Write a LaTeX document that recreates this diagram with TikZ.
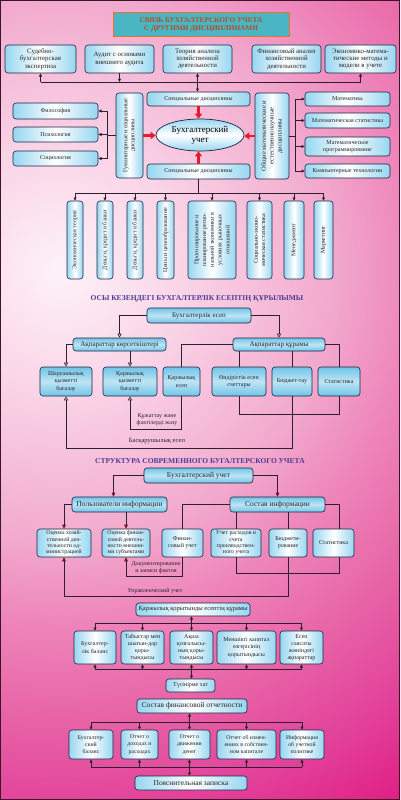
\documentclass[tikz,border=0pt]{standalone}
\usepackage{fontspec}
\setmainfont{Liberation Serif}
\usetikzlibrary{arrows.meta,shapes.geometric}

\definecolor{boxblue}{RGB}{150,214,240}
\definecolor{kazblue}{RGB}{112,196,232}
\definecolor{boxline}{RGB}{28,36,64}
\definecolor{wire}{RGB}{45,30,50}
\definecolor{rusred}{RGB}{110,20,34}
\definecolor{titleteal}{RGB}{74,182,196}
\definecolor{titleorange}{RGB}{236,112,44}
\definecolor{titletext}{RGB}{178,78,40}
\definecolor{headpurple}{RGB}{78,58,148}
\definecolor{arrowred}{RGB}{226,28,42}
\definecolor{framecol}{RGB}{60,20,40}
\definecolor{glowa}{RGB}{253,242,248}
\definecolor{glowb}{RGB}{250,214,232}
\definecolor{glowc}{RGB}{242,169,205}
\definecolor{glowd}{RGB}{238,134,187}
\definecolor{glowe}{RGB}{232,102,167}
\definecolor{glowf}{RGB}{226,64,154}
\definecolor{glowg}{RGB}{224,21,127}
\pgfdeclareradialshading{pinkglow}{\pgfpoint{0bp}{0bp}}{color(0bp)=(glowa); color(4.5bp)=(glowb); color(10.5bp)=(glowc); color(13.5bp)=(glowd); color(17bp)=(glowe); color(21bp)=(glowf); color(25bp)=(glowg); color(50bp)=(glowg)}

\begin{document}
\begin{tikzpicture}[x=1pt,y=-1pt,
   box/.style={draw=boxline,line width=0.6pt,rounded corners=3pt,left color=boxblue,right color=boxblue,middle color=white,text=black!85,align=center,inner sep=1pt,font=\fontsize{6}{7.2}\selectfont},
   topbox/.style={box,minimum height=28,font=\fontsize{6.8}{7.4}\selectfont},
   vbox/.style={box,rotate=90},
   kbox/.style={box,top color=kazblue,bottom color=kazblue,middle color=white!55!kazblue},
   head/.style={kbox,font=\fontsize{7}{8}\selectfont},
   rhead/.style={kbox,font=\fontsize{7.5}{8.5}\selectfont},
   titlebox/.style={draw=titleorange,line width=1pt,fill=titleteal,text=titletext,align=center,font=\bfseries\fontsize{7.3}{8.3}\selectfont},
   section/.style={text=headpurple,font=\bfseries\fontsize{7.5}{8.5}\selectfont},
   lbl/.style={text=black!85,align=center,font=\fontsize{6}{6.8}\selectfont},
   wireline/.style={draw=wire,line width=0.6pt},
   link/.style={wireline,-{Triangle[length=3.2pt,width=3pt]}},
   both/.style={wireline,{Triangle[length=3.2pt,width=3pt]}-{Triangle[length=3.2pt,width=3pt]}},
   klink/.style={wireline,-{Triangle[length=4pt,width=4pt,fill=white]}},
   rlink/.style={wireline,-{Triangle[length=4pt,width=3.6pt,color=rusred]}},
   redlink/.style={draw=arrowred,line width=2.4pt,-{Triangle[length=5pt,width=7pt]}}]
\useasboundingbox (0,0) rectangle (400,800);
\begin{scope}
\clip (0,0) rectangle (400,800);
\shade[shading=pinkglow] (60,270) circle (650pt);
\end{scope}

% links with other disciplines
\node[titlebox,minimum width=176,minimum height=24] (title) at (201,25) {СВЯЗЬ БУХГАЛТЕРСКОГО УЧЕТА\\С ДРУГИМИ ДИСЦИПЛИНАМИ};
\node[topbox,minimum width=71] (sud) at (40.5,59) {Судебно-\\бухгалтерская\\экспертиза};
\node[topbox,minimum width=69] (aud) at (119.5,59) {Аудит с основами\\внешнего аудита};
\node[topbox,minimum width=69] (tea) at (197.5,59) {Теория анализа\\хозяйственной\\деятельности};
\node[topbox,minimum width=69] (fan) at (286.5,59) {Финансовый анализ\\хозяйственной\\деятельности};
\node[topbox,minimum width=71] (emm) at (360.5,59) {Экономико-матема-\\тические методы и\\модели в учете};

\node[box,minimum width=103,minimum height=14] (spec1) at (198.5,99) {Специальные дисциплины};
\node[ellipse,draw=boxline,line width=0.7pt,top color=boxblue,bottom color=boxblue,middle color=white,minimum width=88,minimum height=32,inner sep=0pt,align=center,font=\fontsize{9}{10}\selectfont] (acc) at (200,135) {Бухгалтерский\\учет};
\node[box,minimum width=103,minimum height=15] (spec2) at (198.5,171.5) {Специальные дисциплины};
\node[vbox,minimum width=85,minimum height=27] (gum) at (129.5,135.5) {Гуманитарные и социальные\\дисциплины};
\node[vbox,minimum width=86,minimum height=34,font=\fontsize{6.5}{7.8}\selectfont] (nat) at (272,136) {Общие математические и\\естественнонаучные\\дисциплины};

\node[box,minimum width=85,minimum height=16] (phil) at (55.5,111) {Философия};
\node[box,minimum width=85,minimum height=15] (psy) at (55.5,134.5) {Психология};
\node[box,minimum width=85,minimum height=15] (soc) at (55.5,158.5) {Социология};
\node[box,minimum width=85,minimum height=14] (mat) at (347.5,99) {Математика};
\node[box,minimum width=85,minimum height=15] (mst) at (347.5,120.5) {Математическая статистика};
\node[box,minimum width=85,minimum height=19] (mpr) at (347.5,146.5) {Математическое\\программирование};
\node[box,minimum width=85,minimum height=14] (cmp) at (347.5,171) {Компьютерные технологии};

\node[vbox,minimum width=78,minimum height=16] (v1) at (75,240) {Экономическая теория};
\node[vbox,minimum width=78,minimum height=16] (v2) at (105,240) {Деньги, кредит и банки};
\node[vbox,minimum width=78,minimum height=16] (v3) at (135,240) {Деньги, кредит и банки};
\node[vbox,minimum width=78,minimum height=17] (v4) at (165.5,240) {Цены и ценообразование};
\node[vbox,minimum width=78,minimum height=48,font=\fontsize{6}{7.8}\selectfont] (v5) at (212,240) {Прогнозирование и\\планирование регио-\\нальной экономики в\\условиях рыночных\\отношений};
\node[vbox,minimum width=78,minimum height=25] (v6) at (259.5,240) {Социально-эконо-\\мическая статистика};
\node[vbox,minimum width=78,minimum height=20] (v7) at (294,240) {Менеджмент};
\node[vbox,minimum width=78,minimum height=19] (v8) at (323.5,240) {Маркетинг};

\coordinate (topbus) at (0,82);
\coordinate (lbus) at (107,0);
\coordinate (rbus) at (295,0);
\coordinate (vbus) at (0,193);
\draw[wireline] (sud.south |- topbus) -- (emm.south |- topbus);
\draw[link] (sud.south |- topbus) -- (sud.south);
\draw[link] (aud.south) -- (aud.south |- topbus);
\draw[both] (tea.south) -- (tea.south |- spec1.north);
\draw[link] (emm.south |- topbus) -- (emm.south);
\draw[wireline] (gum.north) -- (gum.north -| lbus);
\draw[wireline] (phil.east -| lbus) -- (soc.east -| lbus);
\draw[link] (phil.east -| lbus) -- (phil.east);
\draw[link] (psy.east -| lbus) -- (psy.east);
\draw[link] (soc.east -| lbus) -- (soc.east);
\draw[wireline] (nat.south) -- (nat.south -| rbus);
\draw[wireline] (mat.west -| rbus) -- (cmp.west -| rbus);
\draw[link] (mat.west -| rbus) -- (mat.west);
\draw[link] (mst.west -| rbus) -- (mst.west);
\draw[link] (mpr.west -| rbus) -- (mpr.west);
\draw[link] (cmp.west -| rbus) -- (cmp.west);
\draw[redlink] (spec1.south) -- (spec1.south |- acc.north);
\draw[redlink] (spec2.north) -- (spec2.north |- acc.south);
\draw[redlink] (gum.south) -- (gum.south -| acc.west);
\draw[redlink] (nat.north) -- (nat.north -| acc.east);
\draw[wireline] (spec2.south) -- (spec2.south |- vbus);
\draw[wireline] (v1.east |- vbus) -- (v8.east |- vbus);
\draw[link] (v1.east |- vbus) -- (v1.east);
\draw[link] (v2.east |- vbus) -- (v2.east);
\draw[link] (v3.east |- vbus) -- (v3.east);
\draw[link] (v4.east |- vbus) -- (v4.east);
\draw[link] (v5.east |- vbus) -- (v5.east);
\draw[link] (v6.east |- vbus) -- (v6.east);
\draw[link] (v7.east |- vbus) -- (v7.east);
\draw[link] (v8.east |- vbus) -- (v8.east);

% kazakh structure
\node[section] (kztitle) at (197,299) {ОСЫ КЕЗЕҢДЕГІ БУХГАЛТЕРЛІК ЕСЕПТІҢ ҚҰРЫЛЫМЫ};
\node[head,minimum width=104,minimum height=15] (kacc) at (199,315.5) {Бухгалтерлік есеп};
\node[head,minimum width=93,minimum height=13] (kind) at (119.5,344.5) {Ақпараттар көрсеткіштері};
\node[head,minimum width=92,minimum height=13] (kcomp) at (279,344.5) {Ақпараттар құрамы};
\node[kbox,minimum width=52,minimum height=29] (k1) at (66,381.5) {Шаруашылық\\қызметті\\бағалау};
\node[kbox,minimum width=54,minimum height=29] (k2) at (130,381.5) {Қаржылық\\қызметті\\бағалау};
\node[kbox,minimum width=37,minimum height=29] (k3) at (181.5,381.5) {Қаржылық\\есеп};
\node[kbox,minimum width=54,minimum height=29] (k4) at (239,381.5) {Өндірістік есеп\\счеттары};
\node[kbox,minimum width=40,minimum height=29] (k5) at (292,381.5) {Бюджет-тау};
\node[kbox,minimum width=42,minimum height=29] (k6) at (339,381.5) {Статистика};
\node[lbl] (kdoclbl) at (157,419.5) {Құжаттау және\\фактілерді жазу};
\node[lbl,font=\fontsize{6.5}{7}\selectfont] (kmanlbl) at (157,441) {Басқарушылық есеп};

\coordinate (kstat) at (0,414);
\coordinate (kdoc) at (0,429);
\coordinate (kman) at (0,448);
\draw[klink] (kacc.west) -| (kind.north);
\draw[klink] (kacc.east) -| (kcomp.north);
\draw[klink] (kind.west) -| (k1.north);
\draw[klink] (kind.south -| k2.north) -- (k2.north);
\draw[wireline] (kcomp.west) -| (k3.north);
\draw[wireline] (kcomp.east) -| (k6.north);
\draw[wireline] (kcomp.south -| k4.north) -- (k4.north);
\draw[wireline] (kcomp.south -| k5.north) -- (k5.north);
\draw[klink] (k3.south) -- (k3.south |- kdoc) -| (k2.south);
\draw[wireline] (k4.south) -- (k4.south |- kstat) -| (k6.south);
\draw[klink] (k5.south) -- (k5.south |- kman) -| (k1.south);

% russian structure
\node[section] (rutitle) at (200,461) {СТРУКТУРА СОВРЕМЕННОГО БУГАЛТЕРСКОГО УЧЕТА};
\node[rhead,minimum width=109,minimum height=15] (racc) at (198.5,475.5) {Бухгалтерский учет};
\node[rhead,minimum width=95,minimum height=15] (ruse) at (119.5,504.5) {Пользователи информации};
\node[rhead,minimum width=95,minimum height=15] (rcomp) at (277.5,504.5) {Состав информации};
\node[box,minimum width=54,minimum height=28,font=\fontsize{5.8}{6.4}\selectfont] (r1) at (64,543) {Оценка хозяй-\\ственной дея-\\тельности ад-\\министрацией};
\node[box,minimum width=48,minimum height=28,font=\fontsize{5.8}{6.4}\selectfont] (r2) at (126,543) {Оценка финан-\\совой деятель-\\ности внешни-\\ми субъектами};
\node[box,minimum width=41,minimum height=28] (r3) at (182.5,543) {Финан-\\совый учет};
\node[box,minimum width=50,minimum height=28,font=\fontsize{5.8}{6.4}\selectfont] (r4) at (236,543) {Учет расходов и\\счета\\производствен-\\ного учета};
\node[box,minimum width=38,minimum height=28] (r5) at (288,543) {Бюджети-\\рование};
\node[box,minimum width=41,minimum height=28] (r6) at (333.5,543) {Статистика};
\node[lbl] (rdoclbl) at (156,568) {Документирование\\и записи фактов};
\node[lbl] (rmanlbl) at (155,591) {Управленческий учет};

\coordinate (rstat) at (0,573);
\coordinate (rdoc) at (0,576);
\coordinate (rman) at (0,596);
\draw[rlink] (racc.west) -| ([xshift=-6pt]ruse.north);
\draw[rlink] (racc.east) -| (rcomp.north);
\draw[rlink] (ruse.west) -| (r1.north);
\draw[rlink] (ruse.south -| r2.north) -- (r2.north);
\draw[wireline] (rcomp.west) -| (r3.north);
\draw[wireline] (rcomp.east) -| ([xshift=6pt]r6.north);
\draw[wireline] (rcomp.south -| r4.north) -- (r4.north);
\draw[wireline] (rcomp.south -| r5.north) -- (r5.north);
\draw[rlink] (r3.south) -- (r3.south |- rdoc) -| (r2.south);
\draw[wireline] (r4.south) -- (r4.south |- rstat) -| ([xshift=6pt]r6.south);
\draw[rlink] (r5.south) -- (r5.south |- rman) -| (r1.south);

% financial statements
\node[box,minimum width=114,minimum height=13,font=\fontsize{6.5}{7.5}\selectfont] (fin) at (193,609.5) {Қаржылық қорытынды есептің құрамы};
\node[box,minimum width=42,minimum height=33] (f1) at (95,647.5) {Бухгалтер-\\лік баланс};
\node[box,minimum width=43,minimum height=33] (f2) at (142.5,647.5) {Табыстар мен\\шығын-дар\\қоры-\\тындысы};
\node[box,minimum width=43,minimum height=33] (f3) at (191.5,647.5) {Ақша\\қозғалысы-\\ның қоры-\\тындысы};
\node[box,minimum width=59,minimum height=33] (f4) at (246.5,647.5) {Меншікті капитал\\өзгерісінің\\қорытындысы};
\node[box,minimum width=43,minimum height=33] (f5) at (301.5,647.5) {Есеп\\саясаты\\жөніндегі\\ақпараттар};
\node[box,minimum width=49,minimum height=13] (note) at (190.5,685.5) {Түсінірме хат};

\node[box,minimum width=110,minimum height=14,font=\fontsize{7.5}{8.5}\selectfont] (comp) at (192,706) {Состав финансовой отчетности};
\node[box,minimum width=44,minimum height=29,font=\fontsize{5.8}{7.2}\selectfont] (s1) at (91,744.5) {Бухгалтер-\\ский\\баланс};
\node[box,minimum width=37,minimum height=29,font=\fontsize{5.8}{7.2}\selectfont] (s2) at (139.5,744.5) {Отчет о\\доходах и\\расходах};
\node[box,minimum width=41,minimum height=29,font=\fontsize{5.8}{7.2}\selectfont] (s3) at (189.5,744.5) {Отчет о\\движении\\денег};
\node[box,minimum width=59,minimum height=29,font=\fontsize{5.8}{7.2}\selectfont] (s4) at (246.5,744.5) {Отчет об измен-\\ениях в собствен-\\ном капитале};
\node[box,minimum width=44,minimum height=29,font=\fontsize{5.8}{7.2}\selectfont] (s5) at (302,744.5) {Информация\\об учетной\\политике};
\node[box,minimum width=112,minimum height=14,font=\fontsize{7.5}{8.5}\selectfont] (expl) at (191,783) {Пояснительная записка};

\coordinate (fbusa) at (0,623);
\coordinate (fbusb) at (0,669);
\coordinate (sbusa) at (0,722);
\coordinate (sbusb) at (0,767);
\draw[wireline] (f1.north |- fbusa) -- (f5.north |- fbusa);
\draw[both] (f3.north |- fin.south) -- (f3.north);
\draw[link] (f1.north |- fbusa) -- (f1.north);
\draw[link] (f2.north |- fbusa) -- (f2.north);
\draw[link] (f4.north |- fbusa) -- (f4.north);
\draw[link] (f5.north |- fbusa) -- (f5.north);
\draw[wireline] (f1.south |- fbusb) -- (f5.south |- fbusb);
\draw[link] (f1.south |- fbusb) -- (f1.south);
\draw[link] (f2.south |- fbusb) -- (f2.south);
\draw[link] (f4.south |- fbusb) -- (f4.south);
\draw[link] (f5.south |- fbusb) -- (f5.south);
\draw[both] (f3.south) -- (f3.south |- note.north);
\draw[wireline] (s1.north |- sbusa) -- (s5.north |- sbusa);
\draw[both] (s3.north |- comp.south) -- (s3.north);
\draw[link] (s1.north |- sbusa) -- (s1.north);
\draw[link] (s2.north |- sbusa) -- (s2.north);
\draw[link] (s4.north |- sbusa) -- (s4.north);
\draw[link] (s5.north |- sbusa) -- (s5.north);
\draw[wireline] (s1.south |- sbusb) -- (s5.south |- sbusb);
\draw[link] (s1.south |- sbusb) -- (s1.south);
\draw[link] (s2.south |- sbusb) -- (s2.south);
\draw[link] (s4.south |- sbusb) -- (s4.south);
\draw[link] (s5.south |- sbusb) -- (s5.south);
\draw[both] (s3.south) -- (s3.south |- expl.north);

\draw[draw=framecol,line width=1.2pt] (0.6,0.6) rectangle (399.4,799.4);
\end{tikzpicture}
\end{document}
